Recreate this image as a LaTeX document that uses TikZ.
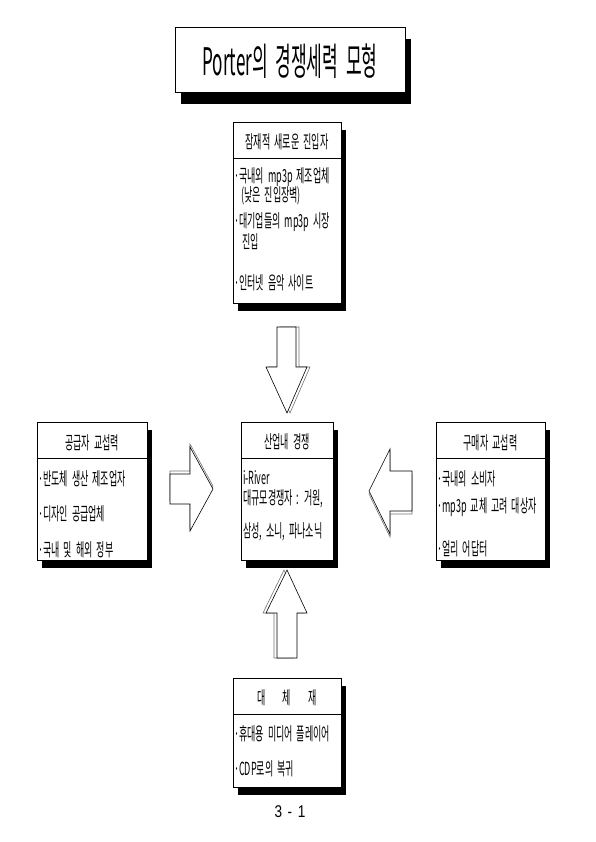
\documentclass[tikz,border=0pt]{standalone}
\usepackage{fontspec}
\setmainfont{Noto Sans CJK KR}[FakeStretch=0.5, WordSpace=2]
\newfontfamily\titlefont{Noto Sans CJK KR}[FakeStretch=0.45, WordSpace=2]
\newfontfamily\pagefont{Liberation Sans}[FakeStretch=0.8, WordSpace=1.5]
\usetikzlibrary{shadows}

\tikzset{
  forcebox/.style={draw, fill=white, line width=0.6pt, inner sep=0pt,
    drop shadow={shadow xshift=5pt, shadow yshift=-8pt, fill=black, opacity=1}},
  boxtext/.style={inner sep=0pt, font=\fontsize{18}{20}\selectfont},
  itemtext/.style={boxtext, anchor=west},
  blockarrow/.style={draw, fill=white, line width=0.6pt, line join=miter},
  arrowghost/.style={draw=black!55, line width=0.6pt, line join=miter}
}

\begin{document}
\begin{tikzpicture}[x=1pt, y=-1pt]
    \useasboundingbox (0,0) rectangle (595,842);

    % Title
    \node[draw, fill=white, line width=1pt, minimum width=230pt, minimum height=65pt,
      drop shadow={shadow xshift=6pt, shadow yshift=-11pt, fill=black, opacity=1}]
      (title) at (290,60.5) {};
    \node[inner sep=0pt, font=\titlefont\fontsize{38}{40}\selectfont] (title-t) at (290,61) {Porter의 경쟁세력 모형};

    % Five boxes
    \node[forcebox, minimum width=108pt, minimum height=181pt] (entrant) at (287,212.5) {};
    \node[forcebox, minimum width=110pt, minimum height=138pt] (supplier) at (92,491) {};
    \node[forcebox, minimum width=92pt, minimum height=138pt] (rivalry) at (287,491) {};
    \node[forcebox, minimum width=109pt, minimum height=138pt] (buyer) at (490.5,491) {};
    \node[forcebox, minimum width=108pt, minimum height=109pt] (substitute) at (287,732.5) {};

    \foreach \b in {entrant,supplier,rivalry,buyer,substitute}
        \draw[line width=0.6pt] ([yshift=-37pt]\b.north west) -- ([yshift=-37pt]\b.north east);

    % Headers
    \node[boxtext] (entrant-h) at ([yshift=-20pt]entrant.north) {잠재적 새로운 진입자};
    \node[boxtext] (supplier-h) at ([yshift=-21pt]supplier.north) {공급자 교섭력};
    \node[boxtext] (rivalry-h) at ([yshift=-20pt]rivalry.north) {산업내 경쟁};
    \node[boxtext] (buyer-h) at ([yshift=-21pt]buyer.north) {구매자 교섭력};
    \node[boxtext] (substitute-h) at ([yshift=-20pt]substitute.north) {대\hspace{17pt}체\hspace{17pt}재};

    % Potential entrants
    \node[itemtext] (e1) at (234,177) {·국내외 mp3p 제조업체};
    \node[itemtext] (e2) at (241,196) {(낮은 진입장벽)};
    \node[itemtext] (e3) at (234,222) {·대기업들의 mp3p 시장};
    \node[itemtext] (e4) at (242,242) {진입};
    \node[itemtext] (e5) at (234,283) {·인터넷 음악 사이트};

    % Suppliers
    \node[itemtext] (s1) at (38,479) {·반도체 생산 제조업자};
    \node[itemtext] (s2) at (38,514) {·디자인 공급업체};
    \node[itemtext] (s3) at (38,550) {·국내 및 해외 정부};

    % Rivalry
    \node[itemtext] (r1) at (243,478) {i-River};
    \node[itemtext] (r2) at (243,499) {대규모경쟁자 : 거원,};
    \node[itemtext] (r3) at (243,532) {삼성, 소니, 파나소닉};

    % Buyers
    \node[itemtext] (b1) at (437,479) {·국내외 소비자};
    \node[itemtext] (b2) at (437,507) {·mp3p 교체 고려 대상자};
    \node[itemtext] (b3) at (437,549) {·얼리 어답터};

    % Substitutes
    \node[itemtext] (u1) at (234,734) {·휴대용 미디어 플레이어};
    \node[itemtext] (u2) at (234,769) {·CDP로의 복귀};

    % Block arrows (down, right, left, up)
    \draw[arrowghost, shift={(3,0)}] (277,327) -- (296,327) -- (296,367) -- (307,367) -- (287,413) -- (266,367) -- (277,367) -- cycle;
    \draw[blockarrow] (277,327) -- (296,327) -- (296,367) -- (307,367) -- (287,413) -- (266,367) -- (277,367) -- cycle;

    \draw[arrowghost, shift={(0,-3)}] (170,474) -- (190,474) -- (190,447) -- (213,489) -- (190,531) -- (190,504) -- (170,504) -- cycle;
    \draw[blockarrow] (170,474) -- (190,474) -- (190,447) -- (213,489) -- (190,531) -- (190,504) -- (170,504) -- cycle;

    \draw[arrowghost, shift={(0,3)}] (412,471) -- (390,471) -- (390,449) -- (369,491) -- (390,534) -- (390,511) -- (412,511) -- cycle;
    \draw[blockarrow] (412,471) -- (390,471) -- (390,449) -- (369,491) -- (390,534) -- (390,511) -- (412,511) -- cycle;

    \draw[arrowghost, shift={(-3,0)}] (277,658) -- (297,658) -- (297,613) -- (307,613) -- (287,570) -- (266,613) -- (277,613) -- cycle;
    \draw[blockarrow] (277,658) -- (297,658) -- (297,613) -- (307,613) -- (287,570) -- (266,613) -- (277,613) -- cycle;

    % Page number
    \node[inner sep=0pt, font=\pagefont\fontsize{17}{19}\selectfont] (page) at (290,812) {3 - 1};
\end{tikzpicture}
\end{document}
